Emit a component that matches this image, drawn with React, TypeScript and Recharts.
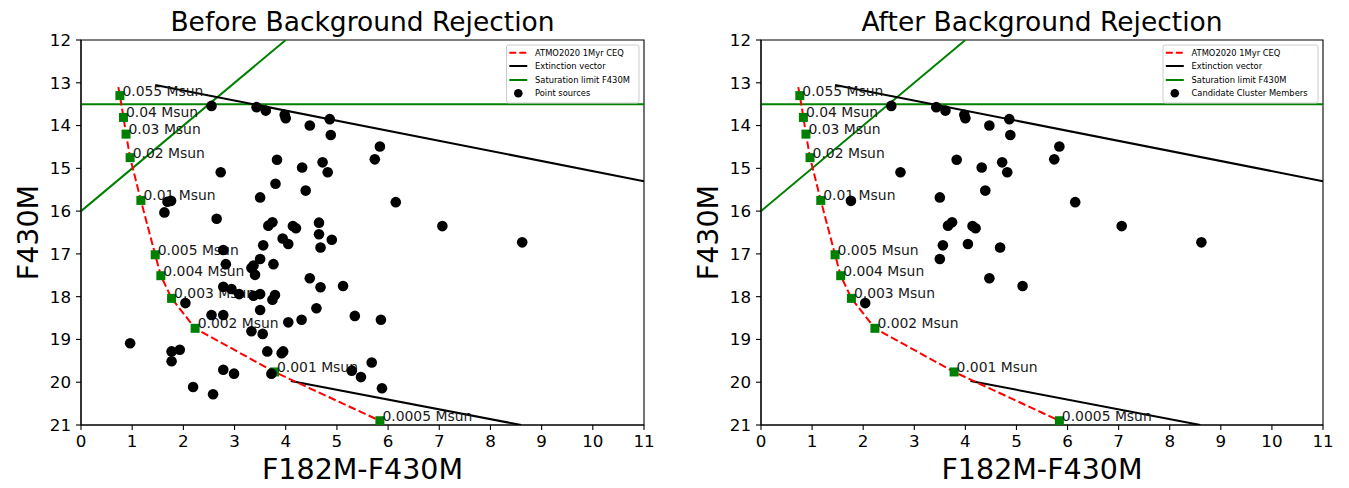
import React from 'react';
import { ComposedChart, Scatter, Line, XAxis, YAxis, ReferenceLine, ReferenceArea } from 'recharts';

const FONT = 'DejaVu Sans';

const colorTicks = [0, 1, 2, 3, 4, 5, 6, 7, 8, 9, 10, 11];
const magTicks = [12, 13, 14, 15, 16, 17, 18, 19, 20, 21];

// ATMO2020 1 Myr CEQ isochrone, mass points
const isoColor = [0.76, 0.83, 0.88, 0.96, 1.17, 1.45, 1.56, 1.77, 2.23, 3.78, 5.84];
const isoMag = [13.3, 13.81, 14.2, 14.75, 15.75, 17.02, 17.51, 18.04, 18.74, 19.76, 20.9];
const isoMass = ['0.055', '0.04', '0.03', '0.02', '0.01', '0.005', '0.004', '0.003', '0.002', '0.001', '0.0005'];

// isochrone track (starts a little above the heaviest mass point)
const trackColor = [0.73, ...isoColor];
const trackMag = [13.1, ...isoMag];

// extinction vectors and saturation limit
const extUpper: [number, number][] = [[1.45, 13.05], [11, 15.3]];
const extLower: [number, number][] = [[4.1, 19.97], [8.6, 21.0]];
const satLimit = 13.5;
const satDiagonal: [number, number][] = [[0, 16], [4, 12]];

// candidate cluster members (kept after background rejection)
const members: [number, number][] = [
  [2.55, 13.54], [3.43, 13.57], [3.61, 13.65], [3.98, 13.75], [4.0, 13.83], [4.47, 14.0],
  [4.86, 13.85], [4.88, 14.22], [5.84, 14.49], [5.74, 14.79], [3.83, 14.8], [4.32, 14.98],
  [4.72, 14.86], [4.82, 15.09], [2.73, 15.09], [4.39, 15.52], [3.5, 15.68], [6.15, 15.79],
  [1.76, 15.76], [3.66, 16.34], [3.74, 16.26], [4.14, 16.35], [4.2, 16.4], [3.56, 16.8],
  [4.05, 16.77], [4.68, 16.85], [3.5, 17.12], [4.47, 17.57], [5.12, 17.75], [2.04, 18.15],
  [7.06, 16.35], [8.62, 16.73],
];

// sources rejected as background
const background: [number, number][] = [
  [3.8, 15.36], [1.69, 15.78], [1.63, 16.03], [2.65, 16.18], [4.65, 16.27], [4.65, 16.54],
  [3.94, 16.64], [4.9, 16.67], [2.78, 16.91], [2.83, 17.24], [3.37, 17.27], [3.33, 17.33],
  [3.4, 17.49], [3.76, 17.24], [4.68, 17.78], [2.78, 17.77], [2.94, 17.82], [3.09, 17.94],
  [3.37, 17.98], [3.5, 17.94], [3.79, 17.96], [3.74, 18.07], [3.5, 18.31], [4.6, 18.27],
  [5.35, 18.45], [5.86, 18.54], [4.05, 18.6], [4.31, 18.54], [2.55, 18.43], [2.78, 18.43],
  [3.33, 18.81], [3.55, 18.87], [0.96, 19.09], [1.77, 19.28], [1.93, 19.24], [1.77, 19.51],
  [3.64, 19.28], [3.92, 19.32], [3.95, 19.28], [5.68, 19.54], [5.29, 19.73], [5.47, 19.88],
  [5.88, 20.14], [2.78, 19.71], [2.99, 19.8], [3.72, 19.8], [2.19, 20.11], [2.58, 20.28],
];

const legendLines = ['ATMO2020 1Myr CEQ', 'Extinction vector', 'Saturation limit F430M'];

const toXY = (pts: [number, number][]) => pts.map(([x, y]) => ({ x, y }));
const isoPoints = isoColor.map((x, i) => ({ x, y: isoMag[i], label: `${isoMass[i]} Msun` }));
const trackPoints = trackColor.map((x, i) => ({ x, y: trackMag[i] }));

const MassMarker = (p: any) => (
  <g>
    <rect x={p.cx - 4.5} y={p.cy - 4.5} width={9} height={9} fill="#008000" />
    <text x={p.cx + 2.5} y={p.cy} fontSize={13.9} fill="#1a1a1a" fontFamily={FONT}>
      {p.payload.label}
    </text>
  </g>
);

const Dot = (p: any) => <circle cx={p.cx} cy={p.cy} r={5.3} fill="#000" />;

const tickStyle = { fontSize: 16.7, fill: '#000', fontFamily: FONT };

function Panel({ points, width, right }: { points: [number, number][]; width: number; right: number }) {
  return (
    <ComposedChart width={width} height={488} margin={{ top: 40, right, bottom: 33, left: 8 }}>
      <XAxis
        type="number" dataKey="x" domain={[0, 11]} ticks={colorTicks} interval={0} allowDataOverflow
        height={30} tickSize={5} tickMargin={5} tick={tickStyle}
        stroke="#000" strokeWidth={1.1}
      />
      <YAxis
        type="number" dataKey="y" domain={[12, 21]} ticks={magTicks} interval={0} reversed allowDataOverflow
        width={73} tickSize={5} tickMargin={5} tick={tickStyle}
        stroke="#000" strokeWidth={1.1}
      />
      <ReferenceArea x1={0} x2={11} y1={12} y2={21} fill="none" stroke="#000" strokeWidth={1.1} />
      <ReferenceLine y={satLimit} stroke="#008000" strokeWidth={2} />
      <Line data={toXY(satDiagonal)} dataKey="y" stroke="#008000" strokeWidth={2} dot={false} isAnimationActive={false} />
      <Line data={toXY(extUpper)} dataKey="y" stroke="#000" strokeWidth={2} dot={false} isAnimationActive={false} />
      <Line data={toXY(extLower)} dataKey="y" stroke="#000" strokeWidth={2} dot={false} isAnimationActive={false} />
      <Line
        data={trackPoints} dataKey="y" type="linear" stroke="#ff0000" strokeWidth={2}
        strokeDasharray="7.7 3.3" dot={false} isAnimationActive={false}
      />
      <Scatter data={isoPoints} shape={MassMarker} isAnimationActive={false} />
      <Scatter data={toXY(points)} shape={Dot} isAnimationActive={false} />
    </ComposedChart>
  );
}

function LegendBox({ left, right, pointLabel }: { left: number; right: number; pointLabel: string }) {
  const rows = [52.7, 66, 80, 93.3];
  const hx = left + 2.8;
  const tx = left + 28.5;
  return (
    <g fontFamily={FONT} fontSize={8.33}>
      <rect x={left} y={45} width={right - left} height={58} rx={2} fill="#fff" fillOpacity={0.8} stroke="#cccccc" />
      <line x1={hx} x2={hx + 18} y1={rows[0]} y2={rows[0]} stroke="#ff0000" strokeWidth={2} strokeDasharray="7 3" />
      <line x1={hx} x2={hx + 18} y1={rows[1]} y2={rows[1]} stroke="#000" strokeWidth={2} />
      <line x1={hx} x2={hx + 18} y1={rows[2]} y2={rows[2]} stroke="#008000" strokeWidth={2} />
      <circle cx={hx + 9} cy={rows[3]} r={4.3} fill="#000" />
      {legendLines.map((t, i) => (
        <text key={t} x={tx} y={rows[i]} dy="0.35em" fill="#000">{t}</text>
      ))}
      <text x={tx} y={rows[3]} dy="0.35em" fill="#000">{pointLabel}</text>
    </g>
  );
}

export default function App() {
  return (
    <div style={{ position: 'absolute', left: 0, top: 0, width: 1349, height: 488, background: '#fff' }}>
      <div style={{ position: 'absolute', left: 0, top: 0 }}>
        <Panel points={[...members, ...background]} width={680} right={36} />
      </div>
      <div style={{ position: 'absolute', left: 680, top: 0 }}>
        <Panel points={members} width={669} right={26} />
      </div>
      <svg width={1349} height={488} style={{ position: 'absolute', left: 0, top: 0, pointerEvents: 'none' }}>
        <g fontFamily={FONT} fill="#000" textAnchor="middle">
          <text x={362.5} y={31} fontSize={26.5}>Before Background Rejection</text>
          <text x={1042} y={31} fontSize={26.5}>After Background Rejection</text>
          <text x={362.5} y={479} fontSize={28.5}>F182M-F430M</text>
          <text x={1042} y={479} fontSize={28.5}>F182M-F430M</text>
          <text x={38} y={232.5} fontSize={28.5} transform="rotate(-90 38 232.5)">F430M</text>
          <text x={718} y={232.5} fontSize={28.5} transform="rotate(-90 718 232.5)">F430M</text>
        </g>
        <LegendBox left={506.5} right={639} pointLabel="Point sources" />
        <LegendBox left={1163} right={1318} pointLabel="Candidate Cluster Members" />
      </svg>
    </div>
  );
}
